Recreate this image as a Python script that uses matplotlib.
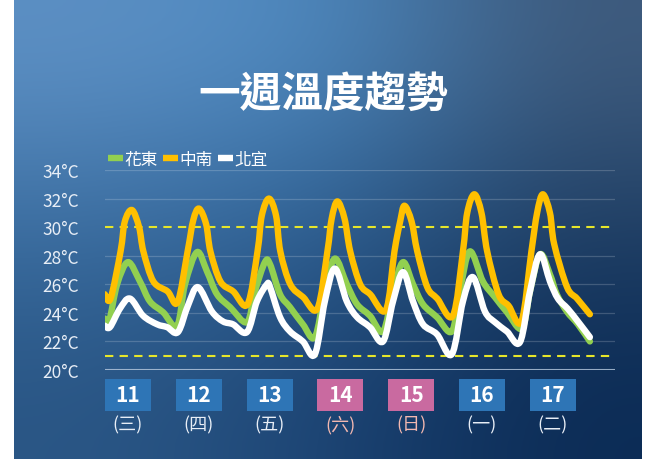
import numpy as np
import matplotlib
matplotlib.use("Agg")
import matplotlib.pyplot as plt
from matplotlib.patches import Rectangle, PathPatch
from matplotlib.path import Path
from matplotlib.lines import Line2D

plt.rcParams['font.family'] = ['Noto Sans CJK TC', 'DejaVu Sans']

# ---- data (hours counted from 00:00 on day 11) ----
hours_east = [4.5, 6, 8.8, 12.6, 16.8, 20.3, 24.9, 29.8,
              32.6, 36.8, 40.3, 43.8, 48.4, 54.3,
              57.1, 60.6, 62.4, 65.9, 69.4, 73.9, 78.1,
              81.6, 85.1, 89.3, 92.9, 97.4, 102,
              105.5, 109, 112.5, 116, 120.9, 126.1,
              128.9, 132.4, 137, 141.2, 145.4, 150.7,
              153.5, 157, 160.5, 162.9, 166.4, 170.3, 174.5]
temp_east = [23.6, 23.4, 26.0, 27.55, 26.2, 24.8, 24.05, 23.1,
             26.0, 28.25, 26.9, 25.3, 24.4, 23.35,
             25.5, 27.55, 27.4, 25.3, 24.4, 23.2, 22.3,
             25.5, 27.8, 26.0, 24.6, 23.8, 22.7,
             25.5, 27.55, 26.0, 24.6, 23.7, 22.7,
             25.5, 28.3, 26.2, 25.1, 24.05, 22.9,
             25.5, 28.1, 26.7, 25.3, 24.1, 23.2, 22.0]

hours_central = [4.5, 6.5, 10, 11.5, 14, 16.5, 18, 21.5, 26.5, 30,
                 33.5, 35.5, 37.5, 40, 41.5, 45, 49.5, 54.5,
                 58, 59.5, 62, 64.5, 66, 69.5, 74, 79,
                 82.5, 84, 86, 88.5, 90.5, 94, 97.5, 103,
                 106, 108, 109.5, 112, 114, 117.5, 121, 126.5,
                 130, 131.5, 134, 136.5, 138.5, 142.5, 146, 150.5,
                 154, 156, 158, 160.5, 162, 166.5, 170, 174.5]
temp_central = [25.3, 25.0, 28.3, 30.4, 31.2, 30.0, 28.3, 26.2, 25.5, 24.75,
                28.3, 30.5, 31.3, 30.2, 28.3, 26.2, 25.5, 24.6,
                28.3, 30.8, 32.0, 30.8, 28.3, 26.0, 25.1, 24.3,
                28.3, 30.6, 31.8, 30.6, 28.3, 26.0, 25.3, 24.2,
                28.3, 30.4, 31.5, 30.4, 28.3, 25.8, 25.0, 23.8,
                28.3, 31.0, 32.3, 31.0, 28.3, 25.3, 24.5, 23.4,
                28.3, 31.0, 32.3, 31.0, 28.8, 25.8, 25.0, 23.9]

hours_north = [4.5, 6.3, 9.8, 13.3, 17.9, 22.8, 26.3, 30.1,
               33.6, 37.1, 42, 45.9, 49.4, 54.3,
               57.8, 61.3, 62.4, 65.9, 69.4, 73.9, 78.1,
               81.6, 85.1, 89.3, 92.9, 97.4, 102,
               105.5, 109, 112.5, 116, 120.9, 126.1,
               130, 133.5, 137.7, 141.2, 145.4, 150,
               153.5, 157, 160.5, 163.3, 166.7, 170.3, 174.5]
temp_north = [23.1, 23.0, 24.3, 25.0, 23.8, 23.2, 23.0, 22.65,
              24.5, 25.8, 24.1, 23.4, 23.2, 22.65,
              24.8, 26.0, 25.8, 23.7, 22.7, 22.0, 21.1,
              24.8, 27.1, 24.8, 23.7, 23.0, 22.0,
              24.8, 26.85, 24.8, 23.2, 22.5, 21.1,
              24.8, 26.5, 24.1, 23.35, 22.7, 21.95,
              25.5, 28.1, 26.2, 25.0, 24.3, 23.4, 22.3]

series_names = ['花東', '中南', '北宜']
dates = ['11', '12', '13', '14', '15', '16', '17']
weekdays = ['(三)', '(四)', '(五)', '(六)', '(日)', '(一)', '(二)']
weekend = [False, False, False, True, True, False, False]
yticks = [20, 22, 24, 26, 28, 30, 32, 34]


def smooth_path(xs, ys):
    # cubic bezier through the points (catmull-rom style), like a "smoothed line"
    p = np.column_stack([xs, ys]).astype(float)
    n = len(p)
    verts = [p[0]]
    codes = [Path.MOVETO]
    for i in range(n - 1):
        p0 = p[max(i - 1, 0)]
        p1 = p[i]
        p2 = p[i + 1]
        p3 = p[min(i + 2, n - 1)]
        c1 = p1 + (p2 - p0) / 6.0
        c2 = p2 - (p3 - p1) / 6.0
        verts += [c1, c2, p2]
        codes += [Path.CURVE4] * 3
    return Path(verts, codes)


W, H = 656, 460
fig = plt.figure(figsize=(W / 100, H / 100), dpi=100)
fig.patch.set_facecolor('white')

# background panel gradient
bg = fig.add_axes([14 / W, 0, (642 - 14) / W, 1], zorder=-5)
grid_cols = np.array([
    [[0x5d, 0x90, 0xc4], [0x4b, 0x89, 0xc1], [0x3e, 0x5a, 0x7c]],
    [[0x3a, 0x6d, 0xa0], [0x2d, 0x5f, 0x92], [0x1e, 0x3d, 0x62]],
    [[0x2a, 0x56, 0x85], [0x1c, 0x44, 0x74], [0x0b, 0x2b, 0x55]],
]) / 255.0
bg.imshow(grid_cols, aspect='auto', interpolation='bicubic', extent=[0, 1, 0, 1])
bg.set_axis_off()

# main axes
ax = fig.add_axes([105 / W, (H - 371) / H, 510 / W, 200 / H])
ax.set_facecolor('none')
ax.set_xlim(4.55, 183.3)
ax.set_ylim(20, 34)
for s in ax.spines.values():
    s.set_visible(False)

for v in yticks:
    if v == 20:
        ax.axhline(v, color='#b9cbe0', lw=1.5, alpha=0.8, zorder=1)
    elif v != 30:
        ax.axhline(v, color='white', lw=0.9, alpha=0.18, zorder=1)
for v in [30, 21]:
    ax.axhline(v, color='#e6e62a', lw=1.5, ls=(0, (4, 3)), zorder=2)

ax.set_yticks(yticks)
ax.set_yticklabels([f'{v}°C' for v in yticks])
ax.tick_params(axis='y', length=0, pad=19, labelsize=12.5, labelcolor='#e8eef6')
ax.set_xticks([])

lw = 4.6
colors = ['#92d050', '#ffc000', 'white']
series = [(hours_east, temp_east), (hours_central, temp_central), (hours_north, temp_north)]
handles = []
for k, ((hx, ty), c) in enumerate(zip(series, colors)):
    patch = PathPatch(smooth_path(hx, ty), facecolor='none', edgecolor=c, lw=lw,
                      joinstyle='round', capstyle='round', zorder=3 + k)
    ax.add_patch(patch)
    handles.append(Line2D([], [], color=c, lw=lw, solid_capstyle='butt'))

fig.legend(handles, series_names, loc='center left',
           bbox_to_anchor=(108 / W, 1 - 160 / H), ncol=3, frameon=False,
           handlelength=0.9, handletextpad=0.1, columnspacing=0.3,
           borderpad=0, borderaxespad=0,
           prop={'size': 12}, labelcolor='white')

# title
fig.text(323 / W, 1 - 95 / H, '一週溫度趨勢', ha='center', va='center',
         fontsize=30, fontweight='bold', color='white')

# date boxes
x0, step = 128, 70.8
for i, (d, wd) in enumerate(zip(dates, weekdays)):
    cx = x0 + i * step
    face = '#c96aa0' if weekend[i] else '#2e75b6'
    fig.patches.append(Rectangle(((cx - 23) / W, 1 - 412 / H), 46 / W, 32 / H,
                                 transform=fig.transFigure, facecolor=face,
                                 edgecolor='none', zorder=2))
    fig.text(cx / W, 1 - 396 / H, d, ha='center', va='center', fontsize=15,
             fontweight='bold', color='white', zorder=3)
    fig.text(cx / W, 1 - 425 / H, wd, ha='center', va='center', fontsize=13,
             color='#f3b8b0' if weekend[i] else '#e8eef6', zorder=3)

fig.savefig('out.png', dpi=100)
